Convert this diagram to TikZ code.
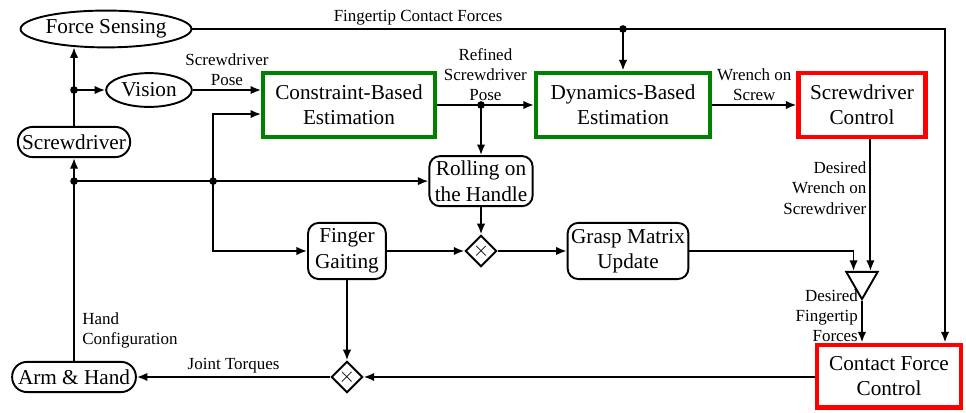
\documentclass[tikz,border=0pt]{standalone}
\usepackage{fontspec}
\setmainfont{Liberation Serif}
\usetikzlibrary{shapes.geometric,arrows.meta}

\begin{document}
\begin{tikzpicture}[line width=0.9pt, >={Latex[length=5pt,width=4pt]},
  blk/.style={draw,rounded corners=5pt,align=center,inner sep=1pt},
  est/.style={draw=green!50!black,line width=2pt,align=center,minimum height=1.07cm},
  ctl/.style={draw=red,line width=2pt,align=center,minimum height=1.07cm},
  sens/.style={draw,ellipse,inner sep=0pt},
  pill/.style={draw,rounded corners=7pt,inner sep=0pt,minimum height=0.5cm},
  mult/.style={draw,diamond,inner sep=0pt,minimum size=0.52cm},
  sumn/.style={draw,regular polygon,regular polygon sides=3,shape border rotate=180,inner sep=0pt,minimum size=0.6cm},
  lbl/.style={font=\footnotesize,inner sep=1.5pt,align=center}]

\useasboundingbox (0,0) rectangle (16,-6.84);

% ---- sensing and plant ----
\node[sens,minimum width=2.83cm,minimum height=0.61cm] (FS)  at (1.756,-0.48) {Force Sensing};
\node[sens,minimum width=1.42cm,minimum height=0.56cm] (Vis) at (2.468,-1.491) {Vision};
\node[pill,minimum width=1.86cm] (SD) at (1.226,-2.352) {Screwdriver};
\node[pill,minimum width=2.05cm] (AH) at (1.226,-6.244) {Arm \& Hand};

% ---- estimation and control ----
\node[est,minimum width=2.84cm] (CBE) at (5.78,-1.739)  {Constraint-Based\\Estimation};
\node[est,minimum width=2.88cm] (DBE) at (10.319,-1.739) {Dynamics-Based\\Estimation};
\node[ctl,minimum width=2.10cm] (SDC) at (14.277,-1.739) {Screwdriver\\Control};
\node[ctl,minimum width=2.38cm,minimum height=1.04cm] (CFC) at (14.725,-6.228) {Contact Force\\Control};

% ---- grasp blocks ----
\node[blk,minimum width=1.71cm,minimum height=0.83cm] (Roll) at (7.967,-3.0)  {Rolling on\\the Handle};
\node[blk,minimum width=1.29cm,minimum height=0.93cm] (FG)   at (5.747,-4.157) {Finger\\Gaiting};
\node[blk,minimum width=2.0cm,minimum height=0.93cm]  (GMU)  at (10.402,-4.157) {Grasp Matrix\\Update};
\node[mult] (M1) at (7.967,-4.157) {$\times$};
\node[mult] (M2) at (5.747,-6.244) {$\times$};
\node[sumn] (Sum) at (14.277,-4.654) {};

% ---- fingertip force feedback ----
\coordinate (fcR) at (15.652,-0.48);
\draw[->] (FS.east) -- node[lbl,above,pos=0.3]{Fingertip Contact Forces} (fcR) -- (fcR |- CFC.north);
\fill (DBE.north |- FS) circle (1.8pt);
\draw[->] (DBE.north |- FS) -- (DBE.north);

% ---- screwdriver pose ----
\draw[->] (SD.north) -- ([yshift=0.5pt]SD.north |- FS.south);
\fill (SD |- Vis) circle (1.8pt);
\draw[->] (SD |- Vis) -- (Vis.west);
\draw[->] (Vis.east) -- node[lbl,above]{Screwdriver\\Pose} (Vis.east -| CBE.west);
\draw[->] (CBE.east) -- node[lbl,above]{Refined\\Screwdriver\\Pose} (DBE.west);
\fill (Roll |- CBE) circle (1.8pt);
\draw[->] (Roll |- CBE) -- (Roll.north);
\draw[->] (DBE.east) -- node[lbl,above]{Wrench on\\Screw} (SDC.west);

% ---- desired forces ----
\coordinate (inA) at ([xshift=-0.14cm]Sum.north);
\coordinate (inB) at ([xshift=0.14cm]Sum.north);
\draw[->] (inB |- SDC.south) -- node[lbl,left,align=right,pos=0.37]{Desired\\Wrench on\\Screwdriver} (inB);
\draw[->] (GMU.east) -| (inA);
\draw[->] (Sum.south) -- node[lbl,left,align=right,pos=0.36]{Desired\\Fingertip\\Forces} (Sum.south |- CFC.north);

% ---- joint torques back to the hand ----
\draw[->] (CFC.west |- M2) -- (M2.east);
\draw[->] (FG.south) -- (M2.north);
\draw[->] (M2.west) -- node[lbl,above]{Joint Torques} (AH.east);
\draw[->] (AH.north) -- node[lbl,right,align=left,pos=0.15,xshift=2pt]{Hand\\Configuration} (SD.south);

% ---- hand configuration bus ----
\coordinate (bus) at (3.53,-3.0);
\fill (SD |- Roll) circle (1.8pt);
\draw[->] (SD |- Roll) -- (Roll.west);
\fill (bus) circle (1.8pt);
\draw[->] (bus) |- ([yshift=-0.15cm]CBE.west);
\draw[->] (bus) |- (FG.west);
\draw[->] (Roll.south) -- (M1.north);
\draw[->] (FG.east) -- (M1.west);
\draw[->] (M1.east) -- (GMU.west);

\end{tikzpicture}
\end{document}
